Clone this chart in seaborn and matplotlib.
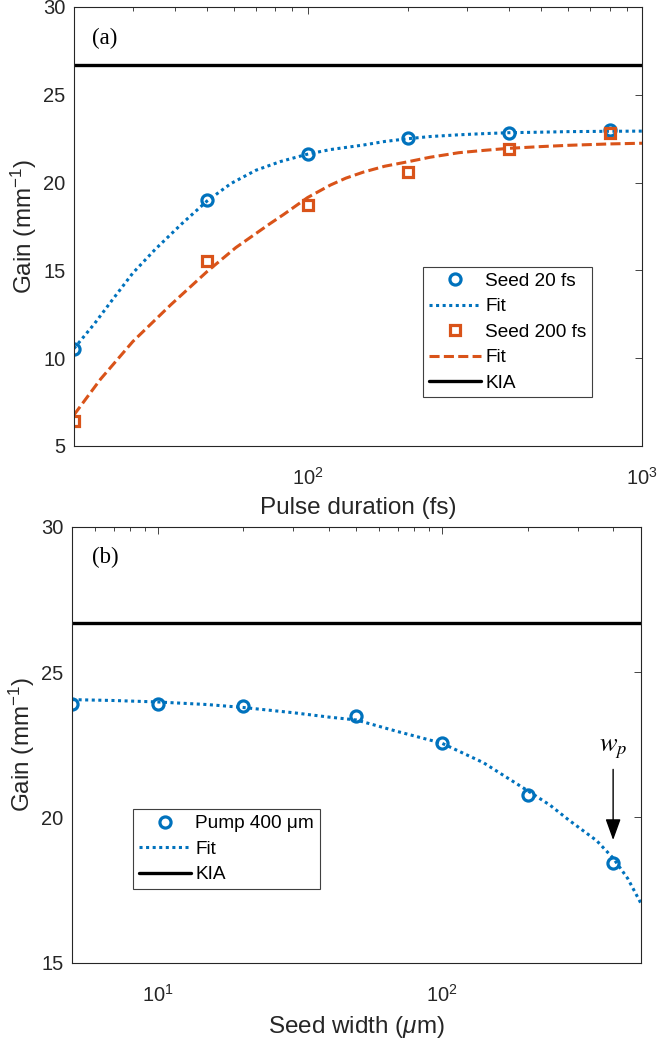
import matplotlib
matplotlib.use("Agg")
import matplotlib.pyplot as plt
from matplotlib.ticker import FixedLocator, LogLocator, NullFormatter
import seaborn as sns

# ---- (a) gain versus pump pulse duration ----
pulse_fs = [20, 50, 100, 200, 400, 800]
gain_seed20 = [10.5, 19.0, 21.6, 22.55, 22.84, 23.0]
gain_seed200 = [6.4, 15.55, 18.7, 20.58, 21.9, 22.84]

fit20_fs = [20, 23, 26, 30, 35, 42, 50, 59, 70, 83, 100, 117, 147, 170, 200, 232, 283, 340, 400,
            500, 600, 800, 1000]
fit20_gain = [10.55, 11.95, 13.3, 14.85, 16.2, 17.65, 18.95, 19.95, 20.7, 21.2, 21.62, 21.88, 22.14,
              22.34, 22.5, 22.62, 22.72, 22.79, 22.84, 22.87, 22.9, 22.92, 22.93]
fit200_fs = [20, 24, 30, 39, 50, 61, 77, 85, 100, 117, 130, 147, 170, 200, 232, 283, 340, 400, 500,
             600, 800, 1000]
fit200_gain = [6.77, 8.8, 10.95, 13.05, 14.93, 16.3, 17.65, 18.2, 19.15, 19.86, 20.25, 20.6, 20.93,
               21.19, 21.44, 21.7, 21.84, 21.95, 22.05, 22.12, 22.2, 22.24]

# ---- (b) gain versus seed width ----
seed_um = [5, 10, 20, 50, 100, 200, 400]
gain_pump400 = [23.9, 23.9, 23.83, 23.48, 22.57, 20.77, 18.43]
fit_um = [5, 7, 10, 15, 20, 30, 40, 50, 70, 100, 140, 200, 240, 280, 350, 400, 450, 500]
fit_pump400 = [24.05, 24.02, 23.97, 23.88, 23.78, 23.6, 23.45, 23.35, 22.95, 22.55, 21.88, 20.92,
               20.42, 19.9, 19.2, 18.6, 17.9, 17.06]

kia_gain = 26.7
pump_width_um = 400
arrow_gain = [21.65, 19.22]

BLUE = "#0072BD"
ORANGE = "#D95319"
INK = "#262626"

sns.set_theme(style="white")
plt.rcParams["font.family"] = ["Liberation Sans", "DejaVu Sans"]
plt.rcParams["mathtext.fontset"] = "custom"
plt.rcParams["mathtext.rm"] = "Liberation Sans"
plt.rcParams["mathtext.it"] = "Liberation Sans:italic"
plt.rcParams["mathtext.bf"] = "Liberation Sans:bold"

fig = plt.figure(figsize=(6.59, 10.4), dpi=100)
ax_a = fig.add_axes([0.1123, 0.5712, 0.8619, 0.4221])
ax_b = fig.add_axes([0.1093, 0.0743, 0.8629, 0.4193])

DOT = (0, (1, 1.15))
DASH = (0, (3.3, 1.4))


def markers(ax, x, y, marker, ms, color, label):
    sns.lineplot(x=x, y=y, ax=ax, marker=marker, linestyle="none", markersize=ms,
                 markerfacecolor="none", markeredgecolor=color, markeredgewidth=2.3,
                 color=color, errorbar=None, label=label, legend=False)
    return ax.lines[-1]


def fit_line(ax, x, y, color, ls, label):
    sns.lineplot(x=x, y=y, ax=ax, color=color, linewidth=2.2, linestyle=ls,
                 errorbar=None, label=label, legend=False)
    line = ax.lines[-1]
    line.set_dash_capstyle("butt")
    return line


def style_axes(ax, xlim, ylim, yticks, xlabel):
    ax.set_xscale("log")
    ax.set_xlim(*xlim)
    ax.set_ylim(*ylim)
    ax.yaxis.set_major_locator(FixedLocator(yticks))
    ax.xaxis.set_minor_locator(LogLocator(base=10, subs=range(2, 10), numticks=20))
    ax.xaxis.set_minor_formatter(NullFormatter())
    ax.tick_params(which="both", direction="in", top=True, right=True,
                   color=INK, labelcolor=INK, width=0.6)
    ax.tick_params(which="major", length=5)
    ax.tick_params(which="minor", length=3)
    ax.tick_params(axis="x", which="major", labelsize=14.5, pad=15)
    ax.tick_params(axis="y", which="major", labelsize=14.5, pad=6)
    for sp in ax.spines.values():
        sp.set_color(INK)
        sp.set_linewidth(0.8)
    ax.set_xlabel(xlabel, fontsize=17.5, color=INK, labelpad=6)
    ax.set_ylabel("Gain (mm$^{-1}$)", fontsize=17.5, color=INK, labelpad=3)


def legend(ax, handles, anchor):
    leg = ax.legend(handles=handles, labels=[h.get_label() for h in handles],
                    loc="upper left", bbox_to_anchor=anchor, borderaxespad=0,
                    frameon=True, fancybox=False, framealpha=1, edgecolor="#404040",
                    fontsize=13.7, handlelength=2.75, handletextpad=0.2,
                    labelspacing=0.43, borderpad=0.3, numpoints=1)
    leg.get_frame().set_linewidth(0.8)
    for t in leg.get_texts():
        t.set_color("black")


# ---- panel (a) ----
h1 = markers(ax_a, pulse_fs, gain_seed20, "o", 8, BLUE, "Seed 20 fs")
h2 = fit_line(ax_a, fit20_fs, fit20_gain, BLUE, DOT, "Fit")
h3 = markers(ax_a, pulse_fs, gain_seed200, "s", 6.5, ORANGE, "Seed 200 fs")
h4 = fit_line(ax_a, fit200_fs, fit200_gain, ORANGE, DASH, "Fit")
h5 = ax_a.axhline(kia_gain, color="black", linewidth=2.4, label="KIA")
style_axes(ax_a, (20, 1000), (5, 30), [5, 10, 15, 20, 25, 30], "Pulse duration (fs)")
legend(ax_a, [h1, h2, h3, h4, h5], (0.615, 0.4084))
ax_a.text(0.031, 0.929, "(a)", transform=ax_a.transAxes, ha="left", va="center",
          family="Liberation Serif", fontsize=16.5, color="black")

# ---- panel (b) ----
g1 = markers(ax_b, seed_um, gain_pump400, "o", 8, BLUE, "Pump 400 \u03bcm")
g2 = fit_line(ax_b, fit_um, fit_pump400, BLUE, DOT, "Fit")
g3 = ax_b.axhline(kia_gain, color="black", linewidth=2.4, label="KIA")
style_axes(ax_b, (5, 500), (15, 30), [15, 20, 25, 30], "Seed width ($\\mu$m)")
legend(ax_b, [g1, g2, g3], (0.1078, 0.3518))
ax_b.text(0.035, 0.930, "(b)", transform=ax_b.transAxes, ha="left", va="center",
          family="Liberation Serif", fontsize=16.5, color="black")

ax_b.annotate("", xy=(pump_width_um, arrow_gain[1]), xytext=(pump_width_um, arrow_gain[0]),
              arrowprops=dict(arrowstyle="-|>,head_length=1.3,head_width=0.47",
                              color="black", lw=1.0, shrinkA=0, shrinkB=0,
                              mutation_scale=10))
ax_b.text(pump_width_um, 21.95, "$w_p$", ha="center", va="bottom", fontsize=19,
          math_fontfamily="stix", color="black")

fig.savefig("out.png", dpi=100)
